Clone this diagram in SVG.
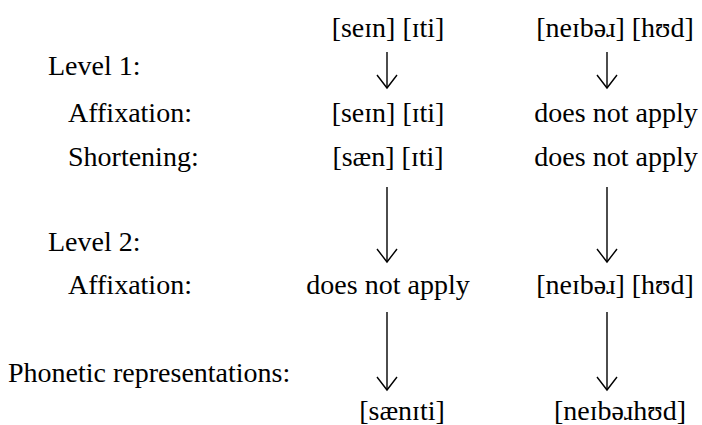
<svg xmlns="http://www.w3.org/2000/svg" width="702" height="425" viewBox="0 0 702 425">
  <defs>
    <marker id="vhead" markerUnits="userSpaceOnUse" markerWidth="16" markerHeight="24" refX="14" refY="12" orient="auto" viewBox="0 0 16 24">
      <path d="M1,2 L14,12 L1,22" fill="none" stroke="#000" stroke-width="1.4"/>
    </marker>
  </defs>

  <!-- row labels -->
  <g id="labels" fill="#000">
    <text x="48" y="75" font-family="Liberation Serif" font-size="28">Level 1:</text>
    <text x="68" y="122" font-family="Liberation Serif" font-size="28">Affixation:</text>
    <text x="68" y="166" font-family="Liberation Serif" font-size="28">Shortening:</text>
    <text x="48" y="251" font-family="Liberation Serif" font-size="28">Level 2:</text>
    <text x="68" y="294" font-family="Liberation Serif" font-size="28">Affixation:</text>
    <text x="8" y="382" font-family="Liberation Serif" font-size="28">Phonetic representations:</text>
  </g>

  <!-- sane + -ity (IPA written as character references) -->
  <g id="sanity" fill="#000" text-anchor="middle">
    <text x="388" y="37" font-family="Liberation Serif" font-size="28">[se&#x26A;n] [&#x26A;ti]</text>
    <text x="388" y="122" font-family="Liberation Serif" font-size="28">[se&#x26A;n] [&#x26A;ti]</text>
    <text x="388" y="166" font-family="Liberation Serif" font-size="28">[s&#xE6;n] [&#x26A;ti]</text>
    <text x="388" y="294" font-family="Liberation Serif" font-size="28">does not apply</text>
    <text x="402" y="420" font-family="Liberation Serif" font-size="28">[s&#xE6;n&#x26A;ti]</text>
  </g>

  <!-- neighbor + -hood -->
  <g id="neighborhood" fill="#000" text-anchor="middle">
    <text x="615" y="37" font-family="Liberation Serif" font-size="28">[ne&#x26A;b&#x259;&#x279;] [h&#x28A;d]</text>
    <text x="616" y="122" font-family="Liberation Serif" font-size="28">does not apply</text>
    <text x="616" y="166" font-family="Liberation Serif" font-size="28">does not apply</text>
    <text x="615" y="294" font-family="Liberation Serif" font-size="28">[ne&#x26A;b&#x259;&#x279;] [h&#x28A;d]</text>
    <text x="620" y="420" font-family="Liberation Serif" font-size="28">[ne&#x26A;b&#x259;&#x279;h&#x28A;d]</text>
  </g>

  <!-- derivation arrows -->
  <g id="connectors" stroke="#000" stroke-width="1.4" fill="none">
    <line x1="387" y1="52" x2="387" y2="88" marker-end="url(#vhead)"/>
    <line x1="387" y1="187" x2="387" y2="262" marker-end="url(#vhead)"/>
    <line x1="387" y1="312" x2="387" y2="390" marker-end="url(#vhead)"/>
    <line x1="607" y1="52" x2="607" y2="88" marker-end="url(#vhead)"/>
    <line x1="607" y1="187" x2="607" y2="262" marker-end="url(#vhead)"/>
    <line x1="607" y1="312" x2="607" y2="390" marker-end="url(#vhead)"/>
  </g>
</svg>
